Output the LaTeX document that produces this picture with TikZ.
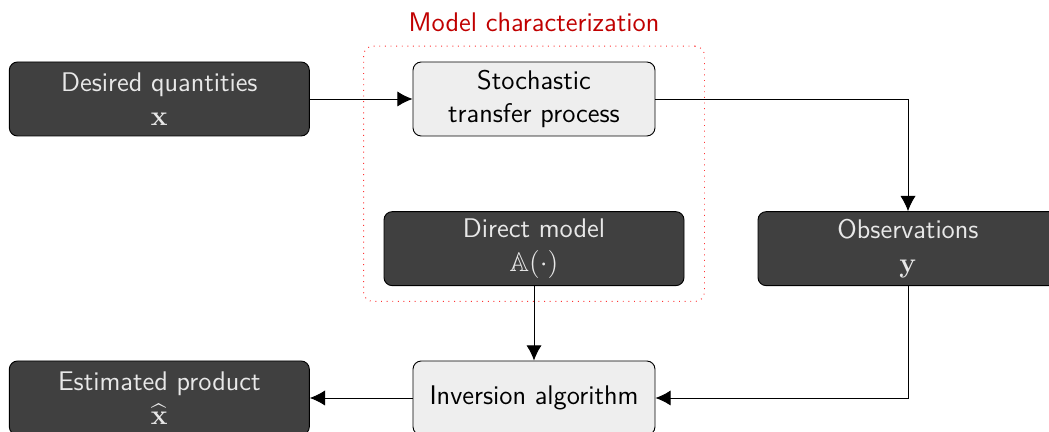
\documentclass[tikz,border=0pt]{standalone}
\usepackage{amsmath,amssymb}
\usepackage{xcolor}
\usepackage{tikz}
\usetikzlibrary{arrows.meta,positioning,fit}
\definecolor{slate}{HTML}{404040}
\definecolor{mist}{HTML}{EEEEEE}
\definecolor{chalk}{HTML}{E8E8E8}
\definecolor{crimson}{HTML}{C00000}

\begin{document}
\begin{tikzpicture}[>={Latex[length=6.5pt,width=6.5pt]},
   bx/.style={draw=black,fill=#1,rounded corners=3.5pt,align=center,font=\sffamily\fontsize{11.5}{14.3}\selectfont,minimum height=1.11cm,inner sep=2pt},
   dk/.style={bx=slate,text=chalk,minimum width=4.5cm},
   lt/.style={bx=mist,text=black,minimum width=3.63cm}]
  \useasboundingbox (0,0) rectangle (15.735,-6.48);
  \node[dk] (x) at (2.39,-1.485) {Desired quantities\\$\mathbf{x}$};
  \node[lt] (stp) at (8.01,-1.485) {Stochastic\\transfer process};
  \node[dk] (dm) at (8.01,-3.73) {Direct model\\$\mathbb{A}(\cdot)$};
  \node[dk] (obs) at (13.62,-3.73) {Observations\\$\mathbf{y}$};
  \node[dk] (est) at (2.39,-5.97) {Estimated product\\$\widehat{\mathbf{x}}$};
  \node[lt] (inv) at (8.01,-5.97) {Inversion algorithm};
  \node[draw=red!80,dotted,rounded corners=4pt,inner xsep=0.3cm,inner ysep=0.23cm,fit=(stp) (dm),
        label={[font=\sffamily\fontsize{11.5}{13}\selectfont,text=crimson,yshift=2.5pt]above:Model characterization}] (mc) {};
  \draw[->] (x) -- (stp);
  \draw[->] (stp) -| (obs);
  \draw[->] (dm) -- (inv);
  \draw[->] (obs) |- (inv);
  \draw[->] (inv) -- (est);
\end{tikzpicture}
\end{document}
